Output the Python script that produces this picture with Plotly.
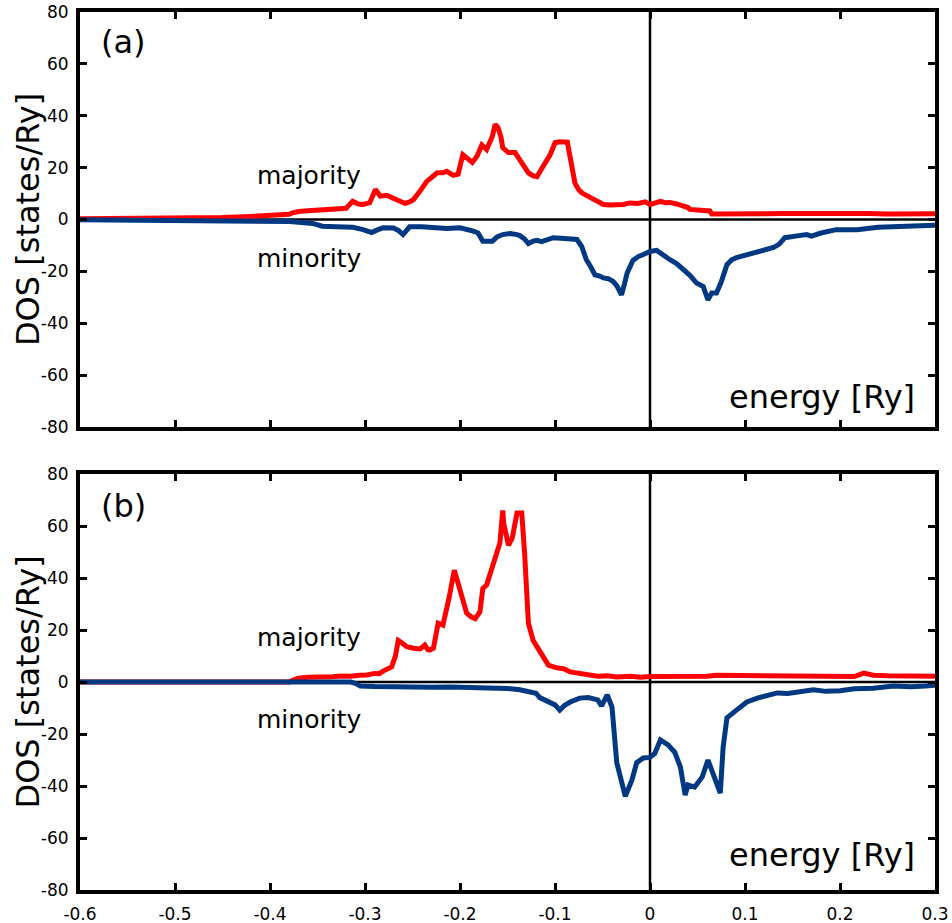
import plotly.graph_objects as go

# ---------------- data ----------------
x_ticks = [-0.6, -0.5, -0.4, -0.3, -0.2, -0.1, 0.0, 0.1, 0.2, 0.3]
x_ticklabels = ["-0.6", "-0.5", "-0.4", "-0.3", "-0.2", "-0.1", "0", "0.1", "0.2", "0.3"]
y_ticks = [-80, -60, -40, -20, 0, 20, 40, 60, 80]
y_ticklabels = ["-80", "-60", "-40", "-20", "0", "20", "40", "60", "80"]

# panel (a) majority
ea_maj = [-0.6, -0.55, -0.5, -0.45, -0.42, -0.40, -0.39, -0.38, -0.376, -0.37, -0.36, -0.35, -0.34, -0.33,
          -0.32, -0.313, -0.307, -0.302, -0.295, -0.289, -0.284, -0.277, -0.27, -0.264, -0.258, -0.253,
          -0.249, -0.242, -0.235, -0.229, -0.224, -0.218, -0.214, -0.207, -0.202, -0.197, -0.192, -0.187,
          -0.182, -0.177, -0.172, -0.166, -0.163, -0.160, -0.157, -0.155, -0.149, -0.142, -0.137, -0.132,
          -0.128, -0.123, -0.119, -0.115, -0.112, -0.105, -0.100, -0.095, -0.087, -0.084, -0.079, -0.075,
          -0.072, -0.068, -0.063, -0.056, -0.049, -0.042, -0.035, -0.028, -0.021, -0.013, -0.005, 0.0,
          0.005, 0.011, 0.016, 0.021, 0.028, 0.035, 0.040, 0.042, 0.05, 0.06, 0.063, 0.065, 0.08, 0.1,
          0.12, 0.14, 0.16, 0.18, 0.2, 0.21, 0.218, 0.23, 0.25, 0.27, 0.3]
da_maj = [0.3, 0.4, 0.5, 0.8, 1.2, 1.5, 1.8, 2.0, 2.6, 3.1, 3.4, 3.6, 3.8, 3.9,
          4.3, 7.0, 6.0, 5.8, 6.5, 11.6, 9.0, 9.3, 8.0, 7.0, 6.2, 6.8,
          7.7, 11.0, 14.7, 16.5, 18.0, 18.0, 18.6, 17.0, 17.5, 25.0, 23.5, 22.0,
          24.5, 28.7, 27.0, 32.0, 36.7, 35.5, 32.0, 27.7, 25.8, 25.8, 23.0, 20.0,
          18.0, 16.8, 16.5, 19.0, 21.0, 25.0, 29.6, 30.0, 29.8, 23.0, 14.0, 11.5,
          10.3, 9.5, 8.4, 7.2, 5.8, 5.6, 5.5, 5.8, 6.4, 6.2, 6.8, 5.8,
          6.3, 7.0, 6.5, 6.6, 6.0, 5.4, 4.6, 3.9, 3.6, 3.4, 3.3, 2.1, 2.0, 2.0,
          2.2, 2.3, 2.4, 2.3, 2.2, 2.4, 2.7, 2.3, 2.1, 2.0, 2.2]

# panel (a) minority
ea_min = [-0.6, -0.5, -0.45, -0.4, -0.379, -0.355, -0.348, -0.345, -0.33, -0.313, -0.303, -0.293, -0.287,
          -0.281, -0.270, -0.265, -0.260, -0.256, -0.253, -0.24, -0.228, -0.214, -0.200, -0.192, -0.186,
          -0.181, -0.176, -0.166, -0.161, -0.155, -0.147, -0.140, -0.137, -0.132, -0.128, -0.123, -0.119,
          -0.114, -0.108, -0.102, -0.09, -0.077, -0.072, -0.067, -0.062, -0.058, -0.053, -0.049, -0.044,
          -0.039, -0.035, -0.03, -0.027, -0.024, -0.018, -0.012, -0.007, 0.0, 0.007, 0.014, 0.021, 0.028,
          0.035, 0.042, 0.049, 0.056, 0.061, 0.065, 0.070, 0.075, 0.081, 0.086, 0.091, 0.1, 0.113, 0.122,
          0.130, 0.136, 0.142, 0.155, 0.165, 0.170, 0.18, 0.196, 0.218, 0.24, 0.27, 0.3]
da_min = [-0.1, -0.3, -0.5, -0.7, -0.8, -1.5, -2.2, -2.6, -2.8, -3.0, -3.8, -5.0, -4.0,
          -3.2, -3.3, -4.2, -5.8, -4.0, -2.8, -2.8, -3.0, -3.5, -3.2, -3.7, -4.5,
          -5.2, -8.4, -8.4, -6.7, -5.8, -5.4, -5.8, -6.2, -7.5, -9.3, -8.3, -8.0,
          -8.5, -7.6, -7.0, -7.3, -7.7, -10.3, -15.5, -18.5, -21.3, -21.8, -22.5, -22.8,
          -23.8, -25.5, -29.0, -25.0, -20.6, -15.8, -14.2, -13.5, -12.3, -11.9, -14.0, -15.5, -17.0,
          -19.0, -21.5, -24.5, -25.8, -31.0, -28.3, -28.3, -24.0, -17.4, -15.5, -14.7, -13.7, -12.3, -11.6,
          -10.8, -9.5, -7.0, -6.3, -5.8, -6.4, -5.2, -3.9, -3.9, -3.0, -2.5, -2.2]

# panel (b) majority
eb_maj = [-0.6, -0.38, -0.375, -0.37, -0.36, -0.35, -0.34, -0.334, -0.325, -0.315, -0.306, -0.298, -0.29,
          -0.285, -0.281, -0.276, -0.272, -0.268, -0.265, -0.261, -0.256, -0.249, -0.242, -0.237, -0.234,
          -0.232, -0.228, -0.223, -0.218, -0.212, -0.206, -0.202, -0.198, -0.193, -0.188, -0.184, -0.179,
          -0.176, -0.172, -0.165, -0.161, -0.158, -0.155, -0.154, -0.149, -0.145, -0.140, -0.135, -0.132,
          -0.128, -0.123, -0.118, -0.114, -0.107, -0.1, -0.095, -0.09, -0.084, -0.075, -0.066, -0.055,
          -0.045, -0.035, -0.02, -0.01, 0.0, 0.02, 0.04, 0.06, 0.07, 0.09, 0.12, 0.15, 0.18, 0.2, 0.215,
          0.225, 0.235, 0.25, 0.27, 0.285, 0.3]
db_maj = [0.0, 0.0, 0.8, 1.5, 1.8, 1.7, 2.0, 2.0, 2.3, 2.2, 2.6, 2.7, 3.3,
          3.2, 4.2, 5.0, 5.8, 10.0, 16.0, 15.0, 13.6, 13.0, 12.7, 14.2, 12.5,
          12.3, 13.0, 22.6, 21.9, 31.5, 43.0, 38.0, 32.7, 26.5, 25.0, 24.4, 27.0,
          36.0, 37.3, 46.0, 50.0, 53.5, 66.0, 61.0, 52.6, 55.4, 65.0, 65.0, 49.6,
          22.6, 16.0, 13.0, 11.0, 6.5, 5.6, 5.4, 5.0, 3.9, 3.3, 2.7, 2.2,
          2.4, 1.9, 2.2, 1.8, 2.1, 2.0, 1.9, 2.2, 2.6, 2.5, 2.3, 2.3, 2.0, 1.8, 2.1,
          3.4, 2.6, 2.4, 2.5, 2.2, 2.2]

# panel (b) minority
eb_min = [-0.6, -0.315, -0.31, -0.305, -0.29, -0.27, -0.25, -0.23, -0.21, -0.19, -0.17, -0.15, -0.137,
          -0.126, -0.12, -0.116, -0.105, -0.1, -0.095, -0.09, -0.084, -0.074, -0.065, -0.055, -0.051,
          -0.045, -0.04, -0.035, -0.026, -0.019, -0.014, -0.007, 0.0, 0.005, 0.011, 0.019, 0.026, 0.032,
          0.037, 0.040, 0.047, 0.055, 0.061, 0.068, 0.074, 0.077, 0.081, 0.091, 0.102, 0.113, 0.125,
          0.134, 0.145, 0.158, 0.172, 0.185, 0.2, 0.215, 0.235, 0.256, 0.275, 0.29, 0.3]
db_min = [0.0, 0.0, -0.5, -1.5, -1.7, -1.9, -1.8, -2.0, -1.9, -2.1, -2.0, -2.5, -3.0,
          -3.8, -4.3, -6.0, -8.0, -8.8, -10.8, -9.0, -7.7, -6.2, -6.0, -6.9, -9.2,
          -5.0, -9.6, -31.0, -44.0, -37.7, -31.0, -29.2, -29.0, -27.5, -22.3, -24.2, -27.0, -32.7,
          -43.5, -39.6, -40.4, -36.5, -30.0, -36.5, -42.7, -25.0, -13.8, -10.8, -7.7, -6.2, -5.0,
          -4.2, -4.4, -3.8, -3.0, -3.6, -3.4, -2.6, -2.4, -1.5, -1.8, -1.5, -1.2]

RED = "#ff0000"
BLUE = "#003882"
TICK_FONT = dict(family="DejaVu Sans", size=17, color="black")
LW = 5

fig = go.Figure()
fig.add_trace(go.Scatter(x=ea_maj, y=da_maj, mode="lines", line=dict(color=RED, width=LW), xaxis="x", yaxis="y"))
fig.add_trace(go.Scatter(x=ea_min, y=da_min, mode="lines", line=dict(color=BLUE, width=LW), xaxis="x", yaxis="y"))
fig.add_trace(go.Scatter(x=eb_maj, y=db_maj, mode="lines", line=dict(color=RED, width=LW), xaxis="x2", yaxis="y2"))
fig.add_trace(go.Scatter(x=eb_min, y=db_min, mode="lines", line=dict(color=BLUE, width=LW), xaxis="x2", yaxis="y2"))

common_x = dict(range=[-0.6, 0.3], tickvals=x_ticks, ticktext=x_ticklabels, ticks="inside", ticklen=7,
                tickwidth=3, tickcolor="black", showline=True, linewidth=4, linecolor="black", mirror="ticks",
                showgrid=False, zeroline=False, tickfont=TICK_FONT, automargin=False)
common_y = dict(range=[-80, 80], tickvals=y_ticks, ticktext=y_ticklabels, ticks="inside", ticklen=7,
                tickwidth=3, tickcolor="black", showline=True, linewidth=4, linecolor="black", mirror="ticks",
                showgrid=False, zeroline=False, tickfont=TICK_FONT, ticklabelstandoff=4, automargin=False)

fig.update_layout(
    width=952, height=923,
    margin=dict(l=80, r=17, t=12, b=33),
    paper_bgcolor="white", plot_bgcolor="white",
    showlegend=False,
    xaxis=dict(**common_x, domain=[0, 1], anchor="y", showticklabels=False),
    yaxis=dict(**common_y, domain=[0.5273, 1.0], anchor="x"),
    xaxis2=dict(**common_x, domain=[0, 1], anchor="y2", showticklabels=True, ticklabelstandoff=6),
    yaxis2=dict(**common_y, domain=[0.0, 0.4738], anchor="x2"),
)

# zero lines
for xr, yr in (("x", "y"), ("x2", "y2")):
    fig.add_shape(type="line", xref=xr, yref=yr, x0=-0.6, x1=0.3, y0=0, y1=0,
                  line=dict(color="black", width=2.5), layer="below")
    fig.add_shape(type="line", xref=xr, yref=yr, x0=0, x1=0, y0=-80, y1=80,
                  line=dict(color="black", width=2.5), layer="below")

BIG = dict(family="DejaVu Sans", size=32, color="black")
MID = dict(family="DejaVu Sans", size=25, color="black")

panels = [("x", "y", "(a)", 68.4, 17.0, -15.0, -68.4, 0.7636),
          ("x2", "y2", "(b)", 67.7, 17.3, -14.6, -66.5, 0.2369)]
for xr, yr, lab, ylab, ymaj, ymin, yen, ymid in panels:
    fig.add_annotation(x=-0.58, y=ylab, xref=xr, yref=yr, text=lab, showarrow=False,
                       xanchor="left", yanchor="middle", font=BIG)
    fig.add_annotation(x=-0.416, y=ymaj, xref=xr, yref=yr, text="majority", showarrow=False,
                       xanchor="left", yanchor="middle", font=MID)
    fig.add_annotation(x=-0.416, y=ymin, xref=xr, yref=yr, text="minority", showarrow=False,
                       xanchor="left", yanchor="middle", font=MID)
    fig.add_annotation(x=0.281, y=yen, xref=xr, yref=yr, text="energy [Ry]", showarrow=False,
                       xanchor="right", yanchor="middle", font=BIG)
    fig.add_annotation(x=-0.0614, y=ymid, xref="paper", yref="paper", text="DOS [states/Ry]",
                       showarrow=False, textangle=-90, xanchor="center", yanchor="middle", font=BIG)

fig.write_html("out.html")
